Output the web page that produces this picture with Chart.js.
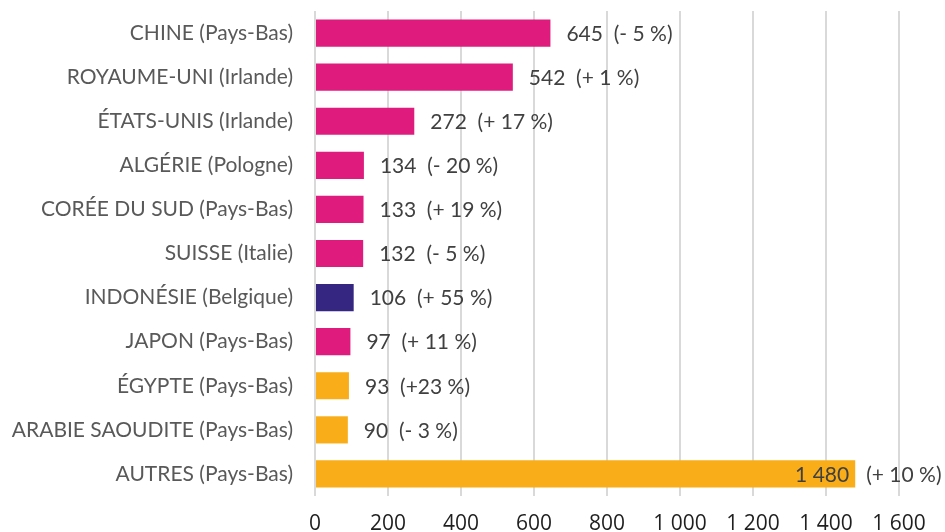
<!DOCTYPE html>
<html>
<head>
  <title>Exportations</title>
  <script src="https://cdn.jsdelivr.net/npm/chart.js"></script>
  <style>
    html, body { margin: 0; padding: 0; background: #fff; }
    #wrap { width: 945px; height: 532px; }
  </style>
</head>
<body>
<div id="wrap"><canvas id="chart"></canvas></div>

<script>
  const categories = [
    'CHINE (Pays-Bas)', 'ROYAUME-UNI (Irlande)', 'ÉTATS-UNIS (Irlande)', 'ALGÉRIE (Pologne)',
    'CORÉE DU SUD (Pays-Bas)', 'SUISSE (Italie)', 'INDONÉSIE (Belgique)', 'JAPON (Pays-Bas)',
    'ÉGYPTE (Pays-Bas)', 'ARABIE SAOUDITE (Pays-Bas)', 'AUTRES (Pays-Bas)'
  ];
  const values = [645, 542, 272, 134, 133, 132, 106, 97, 93, 90, 1480];
  const changes = ['(- 5 %)', '(+ 1 %)', '(+ 17 %)', '(- 20 %)', '(+ 19 %)', '(- 5 %)',
                   '(+ 55 %)', '(+ 11 %)', '(+23 %)', '(- 3 %)', '(+ 10 %)'];
  const groups = ['rose', 'rose', 'rose', 'rose', 'rose', 'rose', 'bleu', 'rose', 'orange', 'orange', 'orange'];
  const tickValues = [0, 200, 400, 600, 800, 1000, 1200, 1400, 1600];

  const palette = { rose: '#DF1C7E', bleu: '#352682', orange: '#F9AE19' };

  function fmt(n) {
    return String(n).replace(/\B(?=(\d{3})+(?!\d))/g, ' ');
  }

  const valueLabels = {
    id: 'valueLabels',
    afterDatasetsDraw(chart) {
      const ctx = chart.ctx;
      const meta = chart.getDatasetMeta(0);
      ctx.save();
      ctx.font = '21px Lato';
      ctx.fillStyle = '#404040';
      ctx.textBaseline = 'middle';
      meta.data.forEach((bar, i) => {
        const v = values[i];
        if (v > 1000) {
          ctx.textAlign = 'right';
          ctx.fillText(fmt(v), bar.x - 6, bar.y + 1);
          ctx.textAlign = 'left';
          ctx.fillText(changes[i], bar.x + 11, bar.y + 1);
        } else {
          ctx.textAlign = 'left';
          ctx.fillText(fmt(v) + '  ' + changes[i], bar.x + 16, bar.y + 1);
        }
      });
      ctx.restore();
    }
  };

  new Chart(document.getElementById('chart'), {
    type: 'bar',
    data: {
      labels: categories,
      datasets: [{
        data: values,
        backgroundColor: groups.map(g => palette[g]),
        barPercentage: 0.8,
        categoryPercentage: 0.77
      }]
    },
    options: {
      indexAxis: 'y',
      responsive: true,
      maintainAspectRatio: false,
      animation: false,
      layout: { padding: { top: 11, right: 0, bottom: 0, left: 0 } },
      plugins: { legend: { display: false }, tooltip: { enabled: false } },
      scales: {
        x: {
          min: 0,
          max: 1726,
          afterBuildTicks(scale) {
            scale.ticks = tickValues.map(v => ({ value: v }));
          },
          afterFit(scale) {
            scale.height = 36;
            scale.paddingLeft = 0;
            scale.paddingRight = 0;
          },
          grid: { color: '#D9D9D9', lineWidth: 2, drawTicks: false },
          border: { display: false },
          ticks: {
            padding: 15,
            color: '#1F1F1F',
            font: { family: 'Open Sans', size: 21 },
            callback: v => fmt(v),
            maxRotation: 0
          }
        },
        y: {
          afterFit(scale) {
            scale.width = 315;
            scale.paddingTop = 0;
            scale.paddingBottom = 0;
          },
          grid: { display: false, drawTicks: false },
          border: { display: false },
          ticks: {
            padding: 22,
            color: '#595959',
            font: { family: 'Lato', size: 21 }
          }
        }
      }
    },
    plugins: [valueLabels]
  });
</script>
</body>
</html>
